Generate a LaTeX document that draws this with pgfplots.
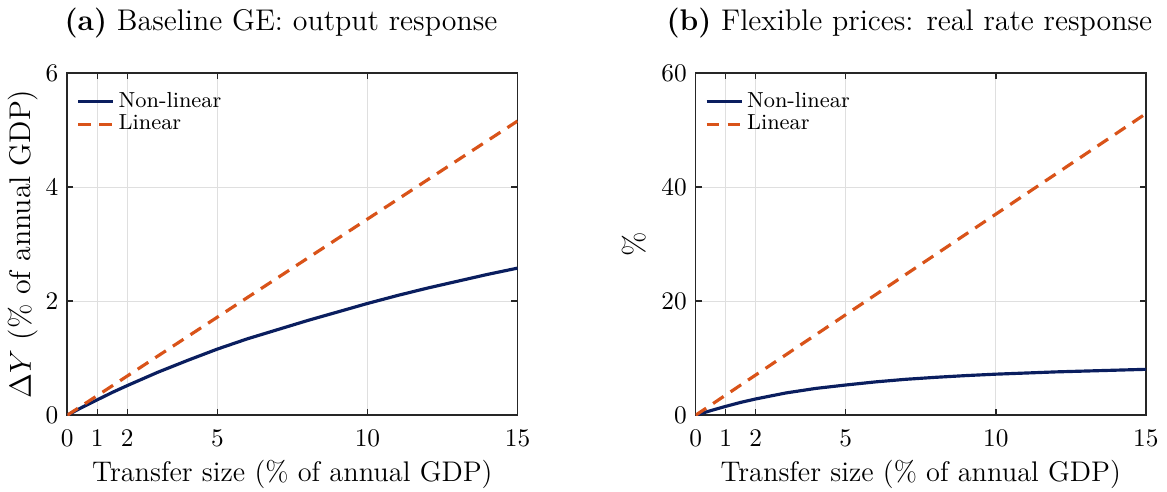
\documentclass[border=0pt]{standalone}
\usepackage{pgfplots}
\pgfplotsset{compat=1.18}
\definecolor{navy}{RGB}{10,30,95}
\definecolor{morange}{RGB}{217,83,25}
\pgfplotsset{
  panel/.style={
    scale only axis,
    width=177.7pt, height=135pt,
    xmin=0, xmax=15,
    xtick={0,1,2,5,10,15},
    grid=major,
    grid style={gray!25, line width=0.4pt},
    axis line style={black!85, line width=0.6pt},
    tick style={black!85, line width=0.6pt},
    major tick length=2.4pt,
    tick align=inside,
    xtick pos=both, ytick pos=both,
    tick label style={font=\fontsize{10.4}{12}\selectfont},
    xticklabel style={yshift=-2.3pt},
    xlabel={Transfer size (\% of annual GDP)},
    xlabel style={font=\fontsize{11.2}{13}\selectfont, inner ysep=1pt, yshift=-1pt},
    ylabel style={font=\fontsize{11.8}{14}\selectfont},
    title style={font=\fontsize{11.8}{14}\selectfont, yshift=4.2pt, xshift=-4.5pt},
    legend style={at={(0.003,0.975)}, anchor=north west, draw=none, fill=none,
      font=\fontsize{8.6}{10}\selectfont, row sep=-2.6pt, nodes={inner xsep=1.5pt}},
    legend cell align=left,
    legend image code/.code={\draw[##1] (0pt,0pt) -- (13.8pt,0pt);},
  },
  nl/.style={navy, line width=1.25pt},
  ln/.style={morange, line width=1.25pt, dash pattern=on 5pt off 3.3pt},
}
\begin{document}
\begin{tikzpicture}
\begin{axis}[panel,
  ymin=0, ymax=6, ytick={0,2,4,6},
  ylabel shift=-4pt,
  ylabel={$\Delta Y$ (\% of annual GDP)},
  title={\textbf{(a)} Baseline GE: output response}]
\addplot[nl] coordinates {(0,0) (0.5,0.14) (1,0.27) (1.5,0.40) (2,0.52) (3,0.75) (4,0.96) (5,1.16) (6,1.34) (7,1.50) (8,1.66) (9,1.81) (10,1.96) (11,2.10) (12,2.23) (13,2.35) (14,2.47) (15,2.58)};
\addlegendentry{Non-linear}
\addplot[ln] coordinates {(0,0) (15,5.16)};
\addlegendentry{Linear}
\end{axis}
\begin{axis}[panel, xshift=248pt,
  ymin=0, ymax=60, ytick={0,20,40,60},
  ylabel shift=-1pt,
  ylabel={\%},
  title={\textbf{(b)} Flexible prices: real rate response}]
\addplot[nl] coordinates {(0,0) (0.5,0.8) (1,1.55) (1.5,2.25) (2,2.85) (3,3.9) (4,4.7) (5,5.3) (6,5.85) (7,6.3) (8,6.65) (9,6.95) (10,7.2) (11,7.4) (12,7.6) (13,7.75) (14,7.9) (15,8.05)};
\addlegendentry{Non-linear}
\addplot[ln] coordinates {(0,0) (15,52.9)};
\addlegendentry{Linear}
\end{axis}
\end{tikzpicture}
\end{document}
